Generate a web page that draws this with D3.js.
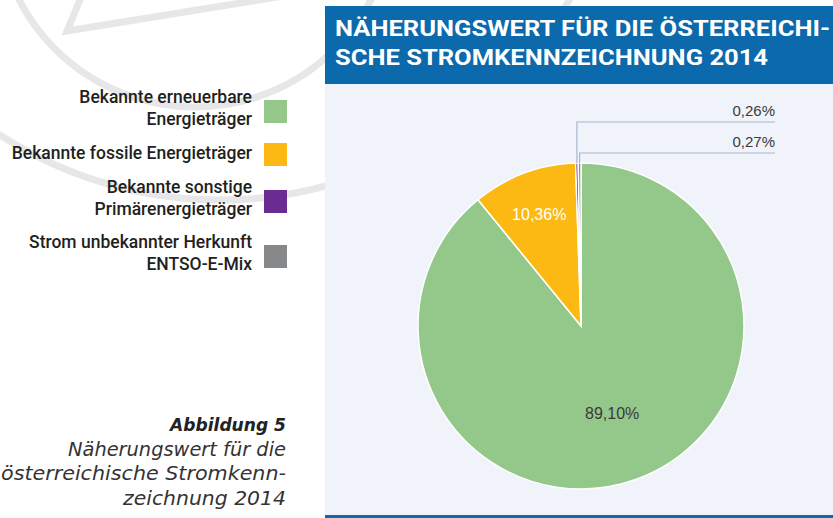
<!DOCTYPE html>
<html>
<head>
<meta charset="utf-8">
<script src="https://cdn.jsdelivr.net/npm/d3@7"></script>
<style>
  body { margin: 0; background: #fff; }
  svg { display: block; }
</style>
</head>
<body>
<svg width="833" height="518"></svg>
<script>
// data
var categories = ["Bekannte erneuerbare Energieträger", "Bekannte fossile Energieträger",
    "Bekannte sonstige Primärenergieträger", "Strom unbekannter Herkunft ENTSO-E-Mix"];
var legendLines = [["Bekannte erneuerbare", "Energieträger"], ["Bekannte fossile Energieträger"],
    ["Bekannte sonstige", "Primärenergieträger"], ["Strom unbekannter Herkunft", "ENTSO-E-Mix"]];
var values = [89.10, 10.36, 0.26, 0.27];
var valueLabels = ["89,10%", "10,36%", "0,26%", "0,27%"];
var titleLines = ["NÄHERUNGSWERT FÜR DIE ÖSTERREICHI-", "SCHE STROMKENNZEICHNUNG 2014"];
var captionLines = ["Abbildung 5", "Näherungswert für die", "österreichische Stromkenn-", "zeichnung 2014"];

var colors = ["#93c88a", "#fdb913", "#6a2c91", "#87888a"];

var svg = d3.select("svg"),
    width = +svg.attr("width"),
    height = +svg.attr("height");

// watermark logo in the background
var wm = svg.append("g").attr("fill", "none").attr("stroke", "#e7e7e9").attr("stroke-width", 7);
wm.append("circle").attr("cx", 195).attr("cy", -91).attr("r", 198);
wm.append("circle").attr("cx", 220).attr("cy", -205).attr("r", 405);
wm.append("polyline").attr("points", "82,-5 67,31 290,-5");

// title box
svg.append("rect").attr("x", 325).attr("y", 6).attr("width", width - 325).attr("height", 78)
    .attr("fill", "#0b69ac");
var titleW = [495, 433];
svg.selectAll(".title").data(titleLines).enter().append("text")
    .attr("class", "title")
    .attr("x", 335)
    .attr("y", function (d, i) { return 36 + i * 29; })
    .attr("textLength", function (d, i) { return titleW[i]; })
    .attr("lengthAdjust", "spacingAndGlyphs")
    .attr("fill", "#fff")
    .attr("font-family", "Roboto, 'Liberation Sans', sans-serif")
    .attr("font-weight", "bold")
    .attr("font-size", "22px")
    .text(function (d) { return d; });

// chart panel
svg.append("rect").attr("x", 325).attr("y", 84).attr("width", width - 325).attr("height", 431)
    .attr("fill", "#f0f3f9");
svg.append("rect").attr("x", 325).attr("y", 515).attr("width", width - 325).attr("height", 3)
    .attr("fill", "#0b69ac");

// pie
var cx = 581, cy = 326, radius = 163;
var g = svg.append("g").attr("transform", "translate(" + cx + "," + cy + ")");

var pie = d3.pie().sort(null).value(function (d) { return d; });
var arcs = pie(values);

var path = d3.arc().outerRadius(radius).innerRadius(0);

g.selectAll(".slice").data(arcs).enter().append("path")
    .attr("class", "slice")
    .attr("d", path)
    .attr("fill", function (d, i) { return colors[i]; })
    .attr("stroke", "#fff")
    .attr("stroke-width", 1.5);

// inside labels (first two slices)
var labelR = [0.57, 0.73];
var labelColor = ["#3a3a3a", "#fff"];
arcs.slice(0, 2).forEach(function (d, i) {
    var a = (d.startAngle + d.endAngle) / 2;
    g.append("text")
        .attr("x", Math.sin(a) * radius * labelR[i])
        .attr("y", -Math.cos(a) * radius * labelR[i])
        .attr("dy", "0.35em")
        .attr("text-anchor", "middle")
        .attr("fill", labelColor[i])
        .attr("font-family", "'Liberation Sans', Arial, sans-serif")
        .attr("font-size", "16px")
        .text(valueLabels[i]);
});

// leader lines for the thin slices
var leaderY = [122, 153];
var leaderEndX = 775;
arcs.slice(2).forEach(function (d, j) {
    var a = (d.startAngle + d.endAngle) / 2;
    var x0 = cx + Math.sin(a) * radius,
        y0 = cy - Math.cos(a) * radius;
    svg.append("polyline")
        .attr("points", [x0, y0, x0, leaderY[j], leaderEndX, leaderY[j]].join(","))
        .attr("fill", "none")
        .attr("stroke", "#a9b6cf")
        .attr("stroke-width", 1.2);
    svg.append("text")
        .attr("x", leaderEndX)
        .attr("y", leaderY[j] - 6)
        .attr("text-anchor", "end")
        .attr("fill", "#3a3a3a")
        .attr("font-family", "'Liberation Sans', Arial, sans-serif")
        .attr("font-size", "15px")
        .text(valueLabels[j + 2]);
});

// legend
var swatchY = [100, 143, 190, 245];
var legend = svg.append("g");
categories.forEach(function (c, i) {
    legend.append("rect")
        .attr("x", 264).attr("y", swatchY[i])
        .attr("width", 23).attr("height", 23)
        .attr("fill", colors[i]);
    var lines = legendLines[i];
    var base = lines.length === 1 ? swatchY[i] + 16 : swatchY[i] + 3;
    lines.forEach(function (l, k) {
        legend.append("text")
            .attr("x", 252)
            .attr("y", base + k * 22)
            .attr("text-anchor", "end")
            .attr("fill", "#231f20")
            .attr("font-family", "Roboto, 'Liberation Sans', sans-serif")
            .attr("font-weight", 500)
            .attr("font-size", "17.5px")
            .text(l);
    });
});

// caption
var captionW = [116, 218, 285, 163];
svg.selectAll(".caption").data(captionLines).enter().append("text")
    .attr("class", "caption")
    .attr("x", 286)
    .attr("y", function (d, i) { return 431 + i * 24.5; })
    .attr("text-anchor", "end")
    .attr("textLength", function (d, i) { return captionW[i]; })
    .attr("lengthAdjust", "spacingAndGlyphs")
    .attr("fill", function (d, i) { return i === 0 ? "#222" : "#333"; })
    .attr("font-family", "'DejaVu Sans', sans-serif")
    .attr("font-style", "italic")
    .attr("font-weight", function (d, i) { return i === 0 ? "bold" : "normal"; })
    .attr("font-size", function (d, i) { return i === 0 ? "17px" : "19px"; })
    .text(function (d) { return d; });
</script>
</body>
</html>
